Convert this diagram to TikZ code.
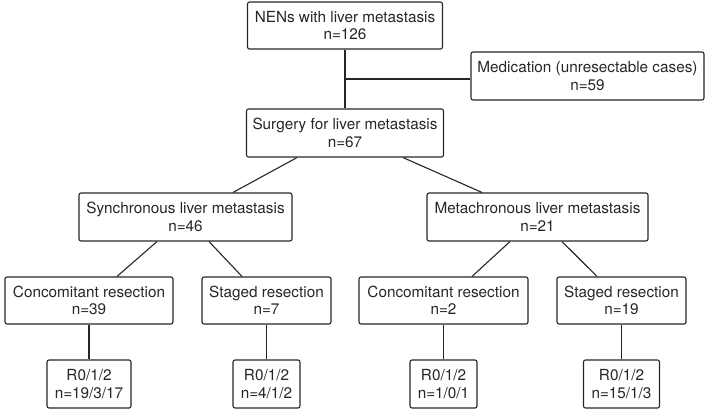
\documentclass[tikz,border=0pt]{standalone}
\usepackage{fontspec}
\setmainfont{TeX Gyre Heros}
\usetikzlibrary{positioning}

\begin{document}
\begin{tikzpicture}[x=1pt,y=-1pt,
  box/.style={draw=black!85,line width=1.1pt,rounded corners=2pt,inner sep=0pt,
    minimum height=47pt,align=center,text=black!85,
    font=\fontsize{15.3}{17.5}\selectfont},
  link/.style={draw=black!85,line width=1.1pt}]
\path[use as bounding box] (0,0) rectangle (709,410);
% top level
\node[box,minimum width=195pt] (nen) at (345,25.5) {NENs with liver metastasis\\n=126};
\node[box,minimum width=233pt,minimum height=48pt] (med) at (587.5,76) {Medication (unresectable cases)\\n=59};
\node[box,minimum width=197pt,minimum height=48pt] (surg) at (345,133) {Surgery for liver metastasis\\n=67};
% timing
\node[box,minimum width=213pt,minimum height=48pt] (syn) at (185.5,217) {Synchronous liver metastasis\\n=46};
\node[box,minimum width=221pt,minimum height=48pt] (meta) at (537.5,217) {Metachronous liver metastasis\\n=21};
% resection type
\node[box,minimum width=168pt] (con1) at (89,300.5) {Concomitant resection\\n=39};
\node[box,minimum width=129pt] (sta1) at (266.5,300.5) {Staged resection\\n=7};
\node[box,minimum width=169pt] (con2) at (443.5,300.5) {Concomitant resection\\n=2};
\node[box,minimum width=129pt] (sta2) at (621.5,300.5) {Staged resection\\n=19};
% margins
\node[box,minimum width=84pt,minimum height=48pt] (r1) at (89,384) {R0/1/2\\n=19/3/17};
\node[box,minimum width=67pt,minimum height=48pt] (r2) at (266.5,384) {R0/1/2\\n=4/1/2};
\node[box,minimum width=67pt,minimum height=48pt] (r3) at (443.5,384) {R0/1/2\\n=1/0/1};
\node[box,minimum width=76pt,minimum height=48pt] (r4) at (621.5,384) {R0/1/2\\n=15/1/3};
% connectors
\draw[link] (nen) -- (surg);
\draw[link] ([yshift=-3pt]nen.south |- med.west) -- ([yshift=-3pt]med.west);
\draw[link] ([xshift=-48pt]surg.south) -- ([xshift=47.5pt]syn.north);
\draw[link] ([xshift=58pt]surg.south) -- ([xshift=-55.5pt]meta.north);
\draw[link] ([xshift=-28.5pt]syn.south) -- ([xshift=28pt]con1.north);
\draw[link] ([xshift=23.5pt]syn.south) -- ([xshift=-24.5pt]sta1.north);
\draw[link] ([xshift=-27.5pt]meta.south) -- ([xshift=28.5pt]con2.north);
\draw[link] ([xshift=24.5pt]meta.south) -- ([xshift=-24.5pt]sta2.north);
\draw[link] (con1) -- (r1);
\draw[link] (sta1) -- (r2);
\draw[link] (con2) -- (r3);
\draw[link] (sta2) -- (r4);
\end{tikzpicture}
\end{document}
